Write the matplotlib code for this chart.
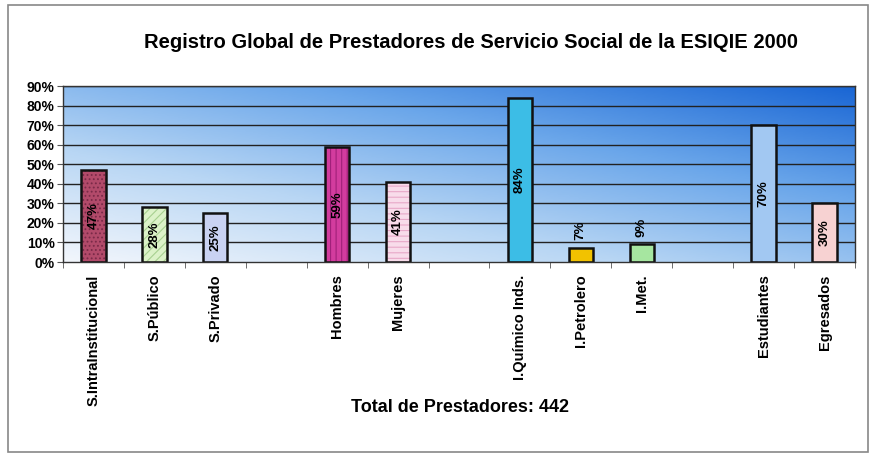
import matplotlib
matplotlib.use("Agg")
import matplotlib.pyplot as plt
import numpy as np
from matplotlib.colors import LinearSegmentedColormap
from matplotlib.patches import Rectangle

plt.rcParams['font.family'] = ['Liberation Sans', 'DejaVu Sans']
plt.rcParams['hatch.linewidth'] = 0.8

title = "Registro Global de Prestadores de Servicio Social de la ESIQIE 2000"
footer = "Total de Prestadores: 442"
categories = ["S.IntraInstitucional", "S.Público", "S.Privado", "",
              "Hombres", "Mujeres", "",
              "I.Químico Inds.", "I.Petrolero", "I.Met.", "",
              "Estudiantes", "Egresados"]
values = [47, 28, 25, None, 59, 41, None, 84, 7, 9, None, 70, 30]
colors = ["#b24a6a", "#dcf2c8", "#c9d2f2", None, "#d23c9e", "#f8dcea", None,
          "#3cbde6", "#f2c200", "#a6e6a0", None, "#a2c8f2", "#f7d2d2"]
hatches = ["....", "////", "", None, "|||", "---", None, "", "", "", None, "", ""]
hatch_colors = ["#7a2a48", "#a8d090", None, None, "#a0207a", "#e8a8c8", None,
                None, None, None, None, None, None]
yticks = [0, 10, 20, 30, 40, 50, 60, 70, 80, 90]

fig = plt.figure(figsize=(8.7, 4.55), dpi=100)
ax = fig.add_axes([63/870, 1-262/455, (855-63)/870, (262-86)/455])

n = len(categories)
ax.set_xlim(-0.5, n-0.5)
ax.set_ylim(0, 90)

# gradient background
gx, gy = np.meshgrid(np.linspace(0, 1, 200), np.linspace(0, 1, 100))
t = 0.55*gy + 0.5*gx
t = t/t.max()
cmap = LinearSegmentedColormap.from_list("bg", ["#f2f6fc", "#b8d6f4", "#6aa6ea", "#1a66d4"])
ax.imshow(t, extent=(-0.5, n-0.5, 0, 90), origin='lower', aspect='auto', cmap=cmap, zorder=0)

for y in yticks[1:]:
    ax.axhline(y, color="#222222", lw=1.0, zorder=1)

x = np.arange(n)
for i, (v, c, h, hc) in enumerate(zip(values, colors, hatches, hatch_colors)):
    if v is None:
        continue
    if h:
        ax.bar(x[i], v, width=0.4, color=c, edgecolor=hc, linewidth=0,
               hatch=h, zorder=2)
        ax.bar(x[i], v, width=0.4, fill=False, edgecolor="#111111", linewidth=1.8, zorder=2.5)
    else:
        ax.bar(x[i], v, width=0.4, color=c, edgecolor="#111111", linewidth=1.8, zorder=2)
    lab = f"{v}%"
    if v >= 15:
        ax.text(x[i], v/2, lab, rotation=90, ha='center', va='center',
                fontsize=9.5, fontweight='bold', color='black', zorder=3)
    else:
        ax.text(x[i], v + 4, lab, rotation=90, ha='center', va='bottom',
                fontsize=9.5, fontweight='bold', color='black', zorder=3)

ax.set_yticks(yticks)
ax.set_yticklabels([f"{y}%" for y in yticks], fontsize=10, fontweight='bold')
ax.set_xticks(x)
ax.set_xticklabels(categories, rotation=90, fontsize=10.5, fontweight='bold')
ax.tick_params(axis='x', length=0, pad=9)
ax.set_xticks(np.arange(-0.5, n, 1), minor=True)
ax.tick_params(axis='x', which='minor', length=4, direction='out', color="#555555")
ax.tick_params(axis='y', length=4, direction='out', color="#555555", pad=2)
for s in ax.spines.values():
    s.set_color("#333333")
    s.set_linewidth(1.0)

fig.text(471/870, 1-43/455, title, ha='center', va='center', fontsize=14.5, fontweight='bold')
fig.text(460/870, 1-408/455, footer, ha='center', va='center', fontsize=13, fontweight='bold')

fig.patches.append(Rectangle((8/870, 3/455), 860/870, 447/455, transform=fig.transFigure,
                             fill=False, edgecolor="#888888", lw=1.2))

fig.savefig("out.png", dpi=100)
